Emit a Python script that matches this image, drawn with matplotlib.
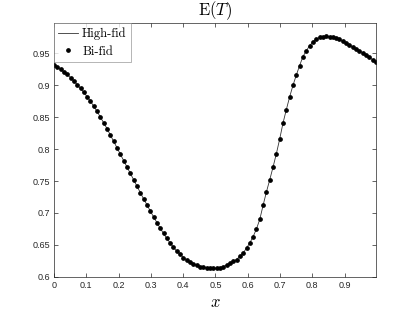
import numpy as np
import matplotlib
matplotlib.use("Agg")
import matplotlib.pyplot as plt

plt.rcParams["mathtext.fontset"] = "cm"

# sample positions (grid points, last one at 0.997)
x_vals = np.linspace(0.0, 0.997, 98)

# E(T), one value per grid point
bi_fid = [
    0.932, 0.929, 0.925, 0.921, 0.917, 0.912, 0.907, 0.901, 0.895, 0.889,
    0.882, 0.875, 0.867, 0.859, 0.850, 0.841, 0.832, 0.822, 0.812, 0.802,
    0.792, 0.782, 0.772, 0.762, 0.752, 0.742, 0.732, 0.722, 0.713, 0.703,
    0.694, 0.685, 0.676, 0.668, 0.660, 0.653, 0.646, 0.640, 0.635, 0.630,
    0.626, 0.623, 0.620, 0.618, 0.616, 0.615, 0.614, 0.613, 0.613, 0.613,
    0.614, 0.616, 0.618, 0.621, 0.624, 0.627, 0.632, 0.637, 0.645, 0.653,
    0.663, 0.675, 0.690, 0.712, 0.733, 0.752, 0.772, 0.793, 0.816, 0.841,
    0.862, 0.882, 0.900, 0.916, 0.931, 0.945, 0.954, 0.962, 0.968, 0.972,
    0.975, 0.976, 0.9767, 0.9763, 0.975, 0.974, 0.972, 0.969, 0.966, 0.963,
    0.960, 0.957, 0.954, 0.951, 0.947, 0.944, 0.940, 0.936,
]
high_fid = bi_fid

x_ticks = [0, 0.1, 0.2, 0.3, 0.4, 0.5, 0.6, 0.7, 0.8, 0.9]
x_ticklabels = ["0", "0.1", "0.2", "0.3", "0.4", "0.5", "0.6", "0.7", "0.8", "0.9"]
y_ticks = [0.6, 0.65, 0.7, 0.75, 0.8, 0.85, 0.9, 0.95]
y_ticklabels = ["0.6", "0.65", "0.7", "0.75", "0.8", "0.85", "0.9", "0.95"]

AX_COLOR = "#262626"

fig = plt.figure(figsize=(4.15, 3.12), dpi=100)
ax = fig.add_axes([0.13, 0.113, 0.776, 0.812])

ax.plot(x_vals, high_fid, "-", color="#333333", linewidth=0.6, label="High-fid")
ax.plot(x_vals, bi_fid, "o", color="black", markersize=2.4, linestyle="none",
        label="Bi-fid")

ax.set_xlim(0, 0.997)
ax.set_ylim(0.6, 0.997)
ax.set_xticks(x_ticks)
ax.set_xticklabels(x_ticklabels)
ax.set_yticks(y_ticks)
ax.set_yticklabels(y_ticklabels)

ax.tick_params(direction="in", length=3, width=0.5, colors=AX_COLOR,
               labelsize=6.5, top=True, right=True, pad=3)
for lab in ax.get_xticklabels() + ax.get_yticklabels():
    lab.set_family("Liberation Sans")
for spine in ax.spines.values():
    spine.set_edgecolor(AX_COLOR)
    spine.set_linewidth(0.5)

ax.set_title(r"$\mathrm{E}(T)$", fontsize=12, color="black", pad=6)
ax.set_xlabel(r"$x$", fontsize=12, color="black", labelpad=2)

leg = ax.legend(loc="upper left", prop={"family": "cmr10", "size": 9},
                frameon=True, fancybox=False, borderaxespad=0.0,
                handlelength=1.6, handletextpad=0.3, borderpad=0.35,
                labelspacing=0.4)
leg.get_frame().set_edgecolor("#7f7f7f")
leg.get_frame().set_linewidth(0.5)

fig.savefig("out.png", dpi=100)
